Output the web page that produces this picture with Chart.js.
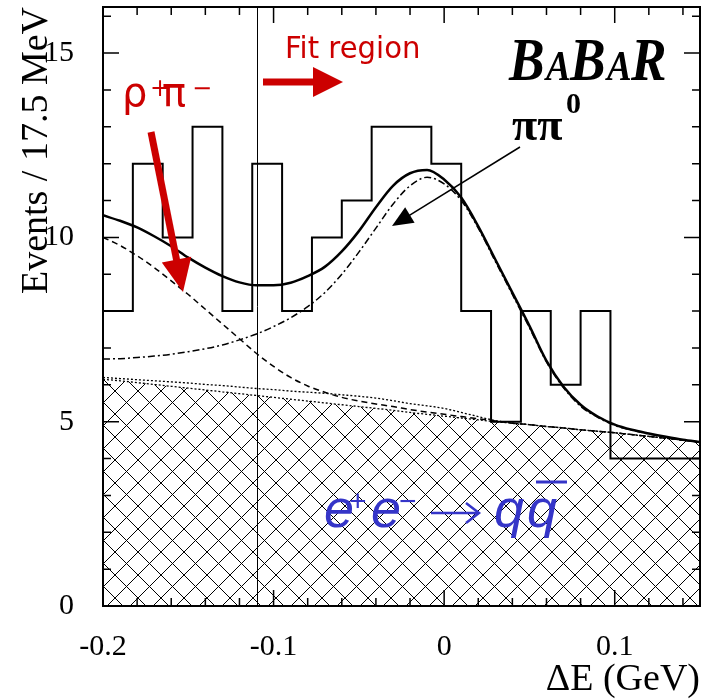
<!DOCTYPE html>
<html>
<head>
<meta charset="utf-8">
<script src="https://cdn.jsdelivr.net/npm/chart.js@4.4.0/dist/chart.umd.min.js"></script>
<style>
html,body{margin:0;padding:0;background:#fff;}
canvas{display:block;}
</style>
</head>
<body>
<canvas id="c" width="704" height="699"></canvas>
<script>
// ΔE histogram: 20 bins of 17.5 MeV starting at -0.2 GeV
var binStart = -0.2;
var binWidth = 0.0175;
var counts = [8,12,10,13,8,12,8,10,11,13,13,12,8,5,8,6,8,4,4,4];

// fit curves sampled every 10 MeV
var curveX = [-0.2,-0.19,-0.18,-0.17,-0.16,-0.15,-0.14,-0.13,-0.12,-0.11,-0.10,-0.09,-0.08,-0.07,-0.06,-0.05,-0.04,-0.03,-0.02,-0.01,0,0.01,0.02,0.03,0.04,0.05,0.06,0.07,0.08,0.09,0.10,0.11,0.12,0.13,0.14,0.15];
var totalFit = [10.6,10.45,10.27,10.03,9.76,9.45,9.18,8.95,8.78,8.7,8.7,8.77,8.95,9.2,9.62,10.17,10.82,11.4,11.74,11.83,11.57,11.08,10.3,9.4,8.5,7.6,6.65,5.95,5.46,5.14,4.92,4.78,4.68,4.59,4.51,4.45];
var pipi0Bkg = [6.7,6.71,6.74,6.78,6.83,6.9,6.98,7.08,7.22,7.38,7.58,7.82,8.12,8.5,9.0,9.6,10.25,10.9,11.4,11.63,11.45,11.0,10.25,9.35,8.45,7.55,6.62,5.92,5.42,5.12,4.9,4.77,4.67,4.58,4.5,4.44];
var rhoPiBkg = [10.0,9.78,9.5,9.18,8.82,8.45,8.05,7.65,7.25,6.85,6.5,6.2,5.97,5.8,5.66,5.56,5.48,5.41,5.33,5.26,5.2,5.14,5.08,5.02,4.96,4.92,4.87,4.83,4.78,4.74,4.7,4.65,4.6,4.55,4.5,4.45];
var otherBkg = [6.2,6.17,6.14,6.11,6.08,6.05,6.01,5.98,5.94,5.9,5.87,5.83,5.8,5.77,5.73,5.69,5.64,5.57,5.49,5.43,5.36,5.25,5.14,5.03,4.96,4.92,4.87,4.83,4.78,4.74,4.7,4.65,4.6,4.55,4.5,4.45];
var qqBkg = [6.15,6.11,6.06,6.01,5.96,5.91,5.86,5.81,5.76,5.71,5.66,5.61,5.56,5.51,5.46,5.41,5.36,5.31,5.25,5.2,5.15,5.1,5.05,5.0,4.96,4.92,4.87,4.83,4.78,4.74,4.7,4.65,4.6,4.55,4.5,4.45];

var fitStart = -0.11;
var xTicks = [-0.2, -0.1, 0, 0.1];

function pts(ys) {
  return curveX.map(function(x, i){ return {x: x, y: ys[i]}; });
}

var histPts = counts.map(function(c, i){ return {x: binStart + i*binWidth, y: c}; });
histPts.push({x: binStart + counts.length*binWidth, y: counts[counts.length-1]});

// cross hatch for the continuum
var pc = document.createElement('canvas');
pc.width = 23; pc.height = 23;
var pctx = pc.getContext('2d');
pctx.strokeStyle = '#000';
pctx.lineWidth = 1;
pctx.beginPath();
pctx.moveTo(-1,-1); pctx.lineTo(24,24);
pctx.moveTo(-1,24); pctx.lineTo(24,-1);
pctx.stroke();
var hatch = document.getElementById('c').getContext('2d').createPattern(pc, 'repeat');

function arrow(ctx, x1, y1, x2, y2, hl, hw, lw, col) {
  var dx = x2-x1, dy = y2-y1, L = Math.sqrt(dx*dx+dy*dy);
  var ux = dx/L, uy = dy/L;
  var bx = x2-ux*hl, by = y2-uy*hl;
  ctx.strokeStyle = col; ctx.fillStyle = col; ctx.lineWidth = lw;
  ctx.beginPath(); ctx.moveTo(x1,y1); ctx.lineTo(bx+ux*2,by+uy*2); ctx.stroke();
  ctx.beginPath();
  ctx.moveTo(x2,y2);
  ctx.lineTo(bx-uy*hw, by+ux*hw);
  ctx.lineTo(bx+uy*hw, by-ux*hw);
  ctx.closePath(); ctx.fill();
}

function txt(ctx, s, x, y, font, col, sx) {
  ctx.save();
  ctx.font = font; ctx.fillStyle = col;
  ctx.textAlign = 'left'; ctx.textBaseline = 'alphabetic';
  ctx.translate(x, y); ctx.scale(sx || 1, 1);
  ctx.fillText(s, 0, 0);
  ctx.restore();
}

var decorations = {
  id: 'decorations',
  afterDatasetsDraw: function(chart) {
    var ctx = chart.ctx, a = chart.chartArea;
    var xs = chart.scales.x, ys = chart.scales.y;
    ctx.save();
    // fit region boundary
    var xf = Math.round(xs.getPixelForValue(fitStart)) + 0.5;
    ctx.strokeStyle = '#000'; ctx.lineWidth = 1;
    ctx.beginPath(); ctx.moveTo(xf, a.top); ctx.lineTo(xf, a.bottom); ctx.stroke();

    // ticks on all four sides
    ctx.lineWidth = 1.5;
    for (var v = 0; v <= 16; v++) {
      var py = ys.getPixelForValue(v), len = v % 5 === 0 ? 16 : 8;
      ctx.beginPath();
      ctx.moveTo(a.left, py); ctx.lineTo(a.left+len, py);
      ctx.moveTo(a.right, py); ctx.lineTo(a.right-len, py);
      ctx.stroke();
    }
    for (var k = -10; k <= 7; k++) {
      var px = xs.getPixelForValue(k*0.02), l2 = k % 5 === 0 ? 16 : 8;
      ctx.beginPath();
      ctx.moveTo(px, a.top); ctx.lineTo(px, a.top+l2);
      ctx.moveTo(px, a.bottom); ctx.lineTo(px, a.bottom-l2);
      ctx.stroke();
    }
    // frame
    ctx.lineWidth = 2;
    ctx.strokeRect(a.left, a.top, a.right-a.left, a.bottom-a.top);

    var red = '#cc0000';
    // fit region label and arrow
    txt(ctx, 'Fit region', 285, 58, '30px "DejaVu Sans"', red, 0.97);
    arrow(ctx, 263, 82, 343, 82, 30, 15, 7, red);
    // rho pi label and arrow
    txt(ctx, 'ρ', 122, 106, '40px "DejaVu Sans"', red);
    txt(ctx, '+', 150, 96, '24px "DejaVu Sans"', red);
    txt(ctx, 'π', 162, 106, '40px "DejaVu Sans"', red);
    txt(ctx, '−', 192, 96, '24px "DejaVu Sans"', red);
    arrow(ctx, 151, 132, 183, 292, 33, 15, 7, red);

    // BaBar logo
    var bf = 'italic bold 62px "Liberation Serif"', sf = 'italic bold 43px "Liberation Serif"';
    txt(ctx, 'B', 509, 80, bf, '#000', 0.86);
    txt(ctx, 'A', 546, 80, sf, '#000', 0.86);
    txt(ctx, 'B', 570, 80, bf, '#000', 0.86);
    txt(ctx, 'A', 607, 80, sf, '#000', 0.86);
    txt(ctx, 'R', 631, 80, bf, '#000', 0.86);

    // pi pi0 label and arrow
    txt(ctx, 'ππ', 512, 140, 'bold 46px "Liberation Serif"', '#000');
    txt(ctx, '0', 566, 113, 'bold 30px "Liberation Serif"', '#000');
    arrow(ctx, 520, 147, 392, 226, 21, 9, 1.5, '#000');

    // continuum label
    var blue = '#3535c8';
    var bfnt = 'italic 54px "Liberation Sans"';
    txt(ctx, 'e', 324, 527, bfnt, blue);
    txt(ctx, '+', 349, 511, '30px "Liberation Sans"', blue);
    txt(ctx, 'e', 371, 527, bfnt, blue);
    txt(ctx, '−', 399, 511, '30px "Liberation Sans"', blue);
    ctx.strokeStyle = blue; ctx.lineWidth = 2.5;
    ctx.beginPath(); ctx.moveTo(431, 513); ctx.lineTo(478, 513); ctx.stroke();
    ctx.beginPath(); ctx.moveTo(466, 503); ctx.lineTo(479, 513); ctx.lineTo(466, 523); ctx.stroke();
    txt(ctx, 'q', 494, 527, bfnt, blue);
    txt(ctx, 'q', 527, 527, bfnt, blue);
    ctx.lineWidth = 3;
    ctx.beginPath(); ctx.moveTo(536, 482); ctx.lineTo(567, 482); ctx.stroke();
    ctx.restore();
  }
};

var serif = '"Liberation Serif", "Times New Roman", serif';

new Chart(document.getElementById('c'), {
  type: 'line',
  data: {
    datasets: [
      {data: histPts, stepped: 'before', borderColor: '#000', borderWidth: 2, pointRadius: 0, fill: false},
      {data: pts(totalFit), borderColor: '#000', borderWidth: 2.5, pointRadius: 0, cubicInterpolationMode: 'monotone', fill: false},
      {data: pts(pipi0Bkg), borderColor: '#000', borderWidth: 1.5, borderDash: [7,3,2,3], pointRadius: 0, cubicInterpolationMode: 'monotone', fill: false},
      {data: pts(rhoPiBkg), borderColor: '#000', borderWidth: 1.5, borderDash: [6,4], pointRadius: 0, cubicInterpolationMode: 'monotone', fill: false},
      {data: pts(otherBkg), borderColor: '#000', borderWidth: 1.3, borderDash: [2,2], pointRadius: 0, cubicInterpolationMode: 'monotone', fill: false},
      {data: pts(qqBkg), borderColor: '#000', borderWidth: 1.3, borderDash: [2,2], pointRadius: 0, cubicInterpolationMode: 'monotone', fill: 'origin', backgroundColor: hatch}
    ]
  },
  options: {
    responsive: false,
    devicePixelRatio: 1,
    animation: false,
    layout: {padding: {left: 0, right: 4, top: 7, bottom: 0}},
    plugins: {legend: {display: false}, tooltip: {enabled: false}},
    scales: {
      x: {
        type: 'linear', min: -0.2, max: 0.15,
        afterFit: function(s){ s.height = 93; s.paddingLeft = 0; s.paddingRight = 0; },
        afterBuildTicks: function(s){ s.ticks = xTicks.map(function(v){ return {value: v}; }); },
        grid: {display: false}, border: {display: false},
        ticks: {
          padding: 15, maxRotation: 0, autoSkip: false, color: '#000',
          font: {family: serif, size: 30},
          callback: function(v){ return Math.abs(v) < 1e-9 ? '0' : String(Math.round(v*10)/10); }
        },
        title: {display: true, text: 'ΔE (GeV)', align: 'end', color: '#000', padding: 0,
                font: {family: serif, size: 38, lineHeight: 1.0}}
      },
      y: {
        type: 'linear', min: 0, max: 16.25,
        afterFit: function(s){ s.width = 103; s.paddingTop = 0; s.paddingBottom = 0; },
        grid: {display: false}, border: {display: false},
        ticks: {stepSize: 5, includeBounds: false, padding: 21, color: '#000', font: {family: serif, size: 30}},
        title: {display: true, text: 'Events / 17.5 MeV', align: 'end', color: '#000',
                padding: {top: 14, bottom: 0}, font: {family: serif, size: 38}}
      }
    }
  },
  plugins: [decorations]
});
</script>
</body>
</html>
